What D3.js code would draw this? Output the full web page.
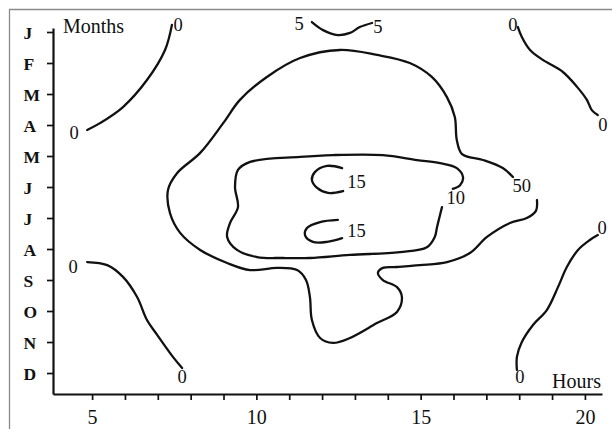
<!DOCTYPE html>
<html>
<head>
<meta charset="utf-8">
<script src="https://cdn.jsdelivr.net/npm/d3@7"></script>
<style>
  html, body { margin: 0; padding: 0; background: #fff; }
  svg { display: block; }
  text { font-family: "Liberation Serif", "Times New Roman", serif; fill: #111; }
</style>
</head>
<body>
<svg id="chart" width="612" height="429"></svg>
<script>
// Month initials along the vertical axis (index 0 = January)
const months = ["J", "F", "M", "A", "M", "J", "J", "A", "S", "O", "N", "D"];
// Hour ticks along the horizontal axis, with the labelled ones
const hourTicks = d3.range(5, 21);
const hourLabels = [5, 10, 15, 20];

// Isolines as [hour, monthIndex] points
const iso0TopLeft = [[7.43,-0.23],[7.22,0.58],[6.67,1.55],[5.94,2.42],[5.24,2.94],[4.85,3.16]];
const iso0BottomLeft = [[4.85,7.42],[5.46,7.52],[5.94,7.90],[6.37,8.55],[6.67,9.29],[6.98,9.77],[7.46,10.48],[7.74,10.84]];
const iso5Top = [[11.69,-0.32],[12.03,-0.06],[12.48,0.10],[12.85,0.03],[13.15,-0.16],[13.52,-0.29]];
const iso0TopRight = [[17.96,-0.16],[18.08,0.16],[18.33,0.58],[18.72,0.90],[19.33,1.29],[19.76,1.77],[20.06,2.19],[20.21,2.52],[20.39,2.68]];
const iso0BottomRight = [[20.39,6.55],[20.15,6.71],[19.79,7.03],[19.45,7.58],[19.18,8.23],[18.84,8.97],[18.42,9.45],[18.08,10.0],[17.93,10.48],[17.93,10.90]];
const iso50 = [[17.81,4.68],[17.50,4.39],[16.90,4.13],[16.26,3.94],[16.10,3.48],[16.04,2.74],[15.80,2.10],[15.34,1.45],[14.67,1.0],[13.67,0.74],[12.54,0.58],[11.33,0.84],[10.32,1.45],[9.50,2.19],[8.99,2.94],[8.29,3.90],[7.59,4.55],[7.31,5.10],[7.37,5.84],[7.68,6.48],[8.29,7.03],[9.11,7.45],[9.81,7.68],[10.63,7.61],[11.24,7.68],[11.51,8.0],[11.63,8.55],[11.69,9.29],[11.94,9.87],[12.33,10.03],[12.85,9.87],[13.67,9.39],[14.28,9.03],[14.43,8.55],[14.28,8.23],[13.85,8.0],[13.70,7.77],[13.85,7.61],[14.28,7.58],[14.98,7.52],[15.80,7.42],[16.50,7.13],[17.02,6.61],[17.72,6.16],[18.23,6.0],[18.51,5.77],[18.54,5.42]];
const iso10 = [[15.98,5.06],[16.20,4.94],[16.29,4.68],[16.10,4.39],[15.59,4.23],[14.89,4.13],[13.85,3.97],[12.33,3.97],[11.33,4.03],[9.81,4.19],[9.44,4.45],[9.35,5.0],[9.44,5.65],[9.20,6.16],[9.11,6.61],[9.41,7.03],[10.02,7.26],[10.81,7.29],[11.63,7.29],[12.85,7.19],[14.37,7.10],[15.19,6.94],[15.43,6.61],[15.50,6.29],[15.59,5.90],[15.65,5.65]];
const iso15Upper = [[12.61,4.39],[12.15,4.32],[11.78,4.52],[11.69,4.77],[11.85,5.03],[12.18,5.19],[12.64,5.13]];
const iso15Lower = [[12.48,6.06],[11.94,6.13],[11.54,6.32],[11.48,6.55],[11.72,6.77],[12.15,6.77],[12.61,6.65]];

// Isoline value labels: [hour, monthIndex, text]
const isoLabels = [
  [7.62,-0.23,"0"],[4.45,3.23,"0"],[4.42,7.58,"0"],[7.74,11.10,"0"],
  [11.30,-0.26,"5"],[13.70,-0.19,"5"],
  [17.81,-0.23,"0"],[20.55,3.00,"0"],[20.52,6.32,"0"],[18.02,11.10,"0"],
  [18.08,4.94,"50"],[16.07,5.35,"10"],[13.05,4.81,"15"],[13.05,6.39,"15"]
];

const svg = d3.select("#chart");

// Outer frame (left and top edges)
svg.append("path")
  .attr("d", "M9.5,432 L9.5,9.5 L612,9.5")
  .attr("fill", "none")
  .attr("stroke", "#8a8a8a")
  .attr("stroke-width", 1.3);

const x = d3.scaleLinear().domain([3.81, 20.52]).range([53, 602]);
const y = d3.scaleLinear().domain([-0.129, 11.677]).range([28, 394]);

// Horizontal axis: hours
const xAxis = svg.append("g")
  .attr("transform", "translate(0,394)")
  .call(d3.axisBottom(x)
    .tickValues(hourTicks)
    .tickFormat(d => hourLabels.includes(d) ? String(d) : "")
    .tickSize(6)
    .tickSizeOuter(0));
xAxis.select(".domain").attr("stroke", "#111").attr("stroke-width", 2.2);
xAxis.selectAll(".tick line").attr("stroke", "#111").attr("stroke-width", 1.7);
xAxis.selectAll(".tick text")
  .attr("y", 16)
  .style("font-size", "20px")
  .style("font-family", "Liberation Serif, serif")
  .attr("fill", "#111");

// Vertical axis: months
const yAxis = svg.append("g")
  .attr("transform", "translate(53,0)")
  .call(d3.axisLeft(y)
    .tickValues(d3.range(12))
    .tickFormat(i => months[i])
    .tickSize(6)
    .tickSizeOuter(0));
yAxis.select(".domain").attr("stroke", "#111").attr("stroke-width", 2.2);
yAxis.selectAll(".tick line").attr("stroke", "#111").attr("stroke-width", 1.7);
yAxis.selectAll(".tick text")
  .attr("x", 23.5 - 53)
  .attr("dy", "0.36em")
  .attr("text-anchor", "start")
  .style("font-size", "17.5px")
  .style("font-weight", "bold")
  .style("font-family", "Liberation Serif, serif")
  .attr("fill", "#111");

// Axis titles
svg.append("text").attr("x", 63).attr("y", 33)
  .style("font-size", "20px").text("Months");
svg.append("text").attr("x", 601).attr("y", 388).attr("text-anchor", "end")
  .style("font-size", "20px").text("Hours");

// Isolines
const line = d3.line()
  .x(d => x(d[0]))
  .y(d => y(d[1]))
  .curve(d3.curveCatmullRom.alpha(0.5));

const isolines = [iso0TopLeft, iso0BottomLeft, iso5Top, iso0TopRight, iso0BottomRight,
                  iso50, iso10, iso15Upper, iso15Lower];
svg.append("g")
  .selectAll("path")
  .data(isolines)
  .join("path")
  .attr("d", line)
  .attr("fill", "none")
  .attr("stroke", "#111")
  .attr("stroke-width", 2.3)
  .attr("stroke-linecap", "round")
  .attr("stroke-linejoin", "round");

// Isoline values
svg.append("g")
  .selectAll("text")
  .data(isoLabels)
  .join("text")
  .attr("x", d => x(d[0]))
  .attr("y", d => y(d[1]))
  .attr("dy", "0.35em")
  .attr("text-anchor", "middle")
  .style("font-size", "18.5px")
  .text(d => d[2]);
</script>
</body>
</html>
